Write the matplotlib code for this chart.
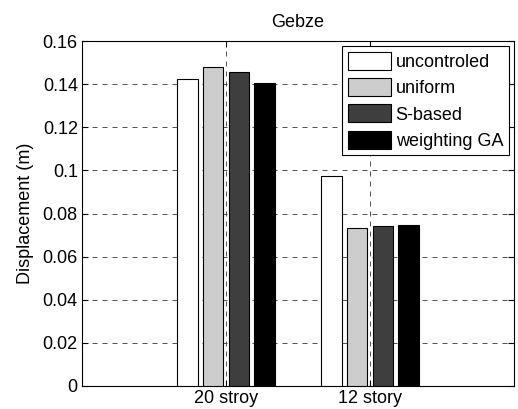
import matplotlib
matplotlib.use("Agg")
import matplotlib.pyplot as plt
import numpy as np

plt.rcParams['font.family'] = ['Liberation Sans', 'DejaVu Sans']

categories = ["20 stroy", "12 story"]
series_names = ["uncontroled", "uniform", "S-based", "weighting GA"]
uncontroled = [0.1425, 0.0974]
uniform = [0.1478, 0.0731]
s_based = [0.1455, 0.0742]
weighting_ga = [0.1407, 0.0747]
values = [uncontroled, uniform, s_based, weighting_ga]
yticks = [0, 0.02, 0.04, 0.06, 0.08, 0.1, 0.12, 0.14, 0.16]
ytick_labels = ["0", "0.02", "0.04", "0.06", "0.08", "0.1", "0.12", "0.14", "0.16"]

colors = ["white", "#cdcdcd", "#3e3e3e", "black"]

fig = plt.figure(figsize=(5.18, 4.09), dpi=100)
ax = fig.add_axes([82/518, 1-386/409, 432/518, 345/409])

x = np.arange(1, len(categories)+1)
spacing = 0.18
width = 0.145
for i, (name, vals) in enumerate(zip(series_names, values)):
    off = (i - 1.5) * spacing
    ax.bar(x + off, vals, width=width, color=colors[i], edgecolor="black",
           linewidth=0.8, label=name, zorder=3)

ax.set_xlim(0, 3)
ax.set_ylim(0, 0.16)
ax.set_xticks(x)
ax.set_xticklabels(categories, fontsize=13)
ax.set_yticks(yticks)
ax.set_yticklabels(ytick_labels, fontsize=13)
ax.set_ylabel("Displacement (m)", fontsize=13, labelpad=6)
ax.set_title("Gebze", fontsize=13, pad=10)
ax.grid(True, linestyle=(0, (6, 6)), color="#333333", linewidth=0.6, zorder=0)
ax.tick_params(direction="in", top=True, right=True, length=4, pad=3)
for s in ax.spines.values():
    s.set_linewidth(0.8)

leg = ax.legend(loc="upper right", fontsize=13, frameon=True, fancybox=False,
                edgecolor="black", handlelength=2.4, handleheight=1.15,
                borderaxespad=0.3, labelspacing=0.4, handletextpad=0.25,
                borderpad=0.3, framealpha=1)
leg.get_frame().set_linewidth(0.8)

fig.savefig("out.png", dpi=100)
